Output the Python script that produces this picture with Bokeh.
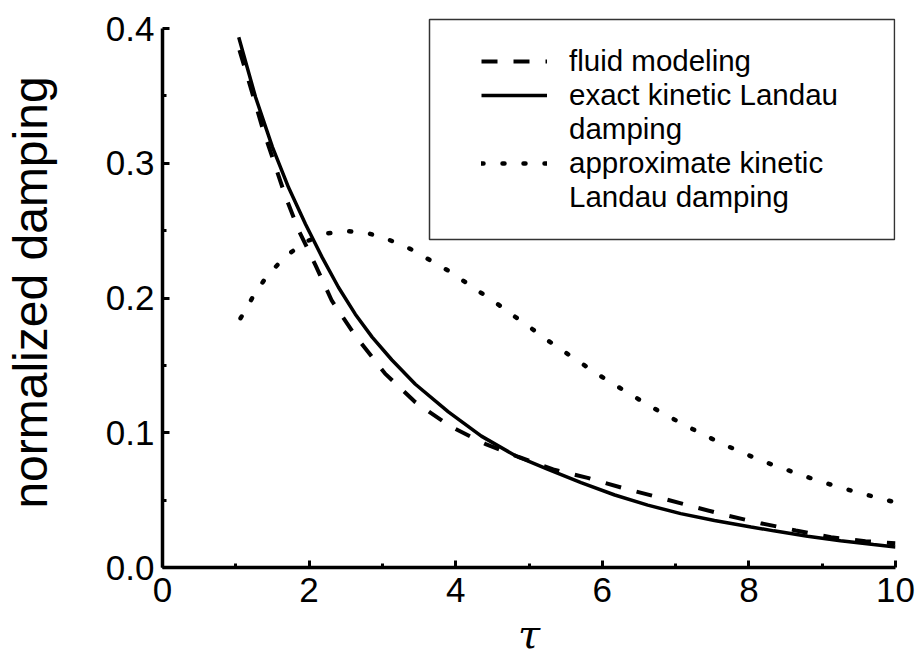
from bokeh.plotting import figure
from bokeh.models import (Legend, LegendItem, FixedTicker, BoxAnnotation, Range1d,
                          PrintfTickFormatter)
from bokeh.embed import file_html
from bokeh.resources import INLINE

# Fluid-model damping versus tau
tau_fluid = [1.05, 1.22, 1.36, 1.52, 1.68, 1.86, 2.09, 2.31, 2.63, 3.04, 3.45,
             3.92, 4.40, 4.85, 5.33, 5.80, 6.28, 6.76, 7.22, 7.70, 8.16, 8.64,
             9.12, 9.59, 10.0]
damp_fluid = [0.384, 0.353, 0.327, 0.301, 0.275, 0.250, 0.224, 0.198, 0.172,
              0.1437, 0.1227, 0.1050, 0.0918, 0.0822, 0.0728, 0.0665, 0.0590,
              0.0522, 0.0455, 0.0386, 0.0329, 0.0275, 0.0225, 0.0195, 0.0180]

# Exact kinetic Landau damping
tau_exact = [1.04, 1.27, 1.50, 1.72, 1.95, 2.18, 2.40, 2.63, 2.86, 3.13, 3.45,
             3.90, 4.35, 4.81, 5.26, 5.71, 6.17, 6.62, 7.07, 7.53, 8.03, 8.34,
             8.80, 9.25, 9.70, 10.0]
damp_exact = [0.3935, 0.349, 0.312, 0.282, 0.255, 0.230, 0.208, 0.188, 0.171,
              0.154, 0.136, 0.1155, 0.0975, 0.0831, 0.0728, 0.0630, 0.0538,
              0.0463, 0.0400, 0.0349, 0.0301, 0.0272, 0.0232, 0.0198, 0.0170,
              0.0152]

# Approximate kinetic Landau damping
tau_approx = [1.065, 1.23, 1.42, 1.68, 1.96, 2.25, 2.53, 2.81, 3.10, 3.38, 3.66,
              3.95, 4.23, 4.52, 4.80, 5.08, 5.36, 5.65, 5.93, 6.21, 6.50, 6.78,
              7.07, 7.35, 7.63, 7.91, 8.19, 8.48, 8.76, 9.05, 9.33, 9.61, 9.90,
              10.0]
damp_approx = [0.185, 0.2006, 0.216, 0.231, 0.242, 0.248, 0.2496, 0.248, 0.243,
               0.2365, 0.2278, 0.2187, 0.208, 0.1976, 0.1865, 0.1756, 0.1645,
               0.154, 0.1437, 0.1343, 0.1247, 0.1158, 0.1073, 0.0994, 0.092,
               0.0853, 0.0789, 0.0732, 0.0678, 0.0626, 0.0581, 0.0539, 0.0497,
               0.0485]

x_ticks = [0, 2, 4, 6, 8, 10]
x_minor_ticks = [1, 3, 5, 7, 9]
y_ticks = [0.0, 0.1, 0.2, 0.3, 0.4]
y_minor_ticks = [0.05, 0.15, 0.25, 0.35]

x_title = "τ"
y_title = "normalized damping"
legend_rows = ["fluid modeling", "exact kinetic Landau", "damping",
               "approximate kinetic", "Landau damping"]

FONT = "Liberation Sans"

# a little head-room above 0.4 so the legend frame can sit above the axis end
p = figure(width=915, height=659, x_range=Range1d(0, 10), y_range=Range1d(0, 0.4082),
           output_backend="svg", toolbar_location=None,
           min_border_left=160, min_border_right=20,
           min_border_top=17, min_border_bottom=92)

p.xgrid.visible = False
p.ygrid.visible = False
p.outline_line_color = None
p.background_fill_color = "white"
p.border_fill_color = "white"

p.xaxis.ticker = FixedTicker(ticks=x_ticks, minor_ticks=x_minor_ticks)
p.yaxis.ticker = FixedTicker(ticks=y_ticks, minor_ticks=y_minor_ticks)
p.yaxis.formatter = PrintfTickFormatter(format="%.1f")
p.yaxis.bounds = (0, 0.4)

for ax in (p.xaxis, p.yaxis):
    ax.axis_line_width = 3.5
    ax.axis_line_color = "black"
    ax.major_tick_in = 7
    ax.major_tick_out = 0
    ax.minor_tick_in = 4
    ax.minor_tick_out = 0
    ax.major_tick_line_width = 3
    ax.minor_tick_line_width = 3
    ax.major_tick_line_color = "black"
    ax.minor_tick_line_color = "black"
    ax.major_label_text_font = FONT
    ax.major_label_text_font_size = "35px"
    ax.major_label_text_color = "black"

p.xaxis.major_label_standoff = 10
p.yaxis.major_label_standoff = 8

p.xaxis.axis_label = x_title
p.xaxis.axis_label_text_font = "DejaVu Serif"
p.xaxis.axis_label_text_font_style = "italic"
p.xaxis.axis_label_text_font_size = "40px"
p.xaxis.axis_label_text_color = "black"
p.xaxis.axis_label_standoff = 6

p.yaxis.axis_label = y_title
p.yaxis.axis_label_text_font = FONT
p.yaxis.axis_label_text_font_style = "normal"
p.yaxis.axis_label_text_font_size = "48px"
p.yaxis.axis_label_text_color = "black"
p.yaxis.axis_label_standoff = 46

r_fluid = p.line(tau_fluid, damp_fluid, line_color="black", line_width=4,
                 line_dash="16 16")
r_exact = p.line(tau_exact, damp_exact, line_color="black", line_width=3.5)
r_approx = p.line(tau_approx, damp_approx, line_color="black", line_width=4.5,
                  line_dash="2 19", line_cap="round")
r_blank = p.line(x=[], y=[], line_alpha=0)

# Legend frame
box = BoxAnnotation(left=267, right=732, bottom=328, top=548,
                    left_units="screen", right_units="screen",
                    top_units="screen", bottom_units="screen",
                    fill_color="white", fill_alpha=1.0,
                    line_color="#333333", line_alpha=1.0, line_width=1.5)
p.add_layout(box)

items = [
    LegendItem(label=legend_rows[0], renderers=[r_fluid]),
    LegendItem(label=legend_rows[1], renderers=[r_exact]),
    LegendItem(label=legend_rows[2], renderers=[r_blank]),
    LegendItem(label=legend_rows[3], renderers=[r_approx]),
    LegendItem(label=legend_rows[4], renderers=[r_blank]),
]
legend = Legend(items=items, location=(319, 353), border_line_alpha=0,
                background_fill_alpha=0, padding=0, spacing=0, margin=0,
                glyph_width=66, glyph_height=34, label_height=34,
                label_standoff=22, label_text_font=FONT,
                label_text_font_size="29.5px", label_text_color="black")
p.add_layout(legend)

open("out.html", "w").write(file_html(p, INLINE))
